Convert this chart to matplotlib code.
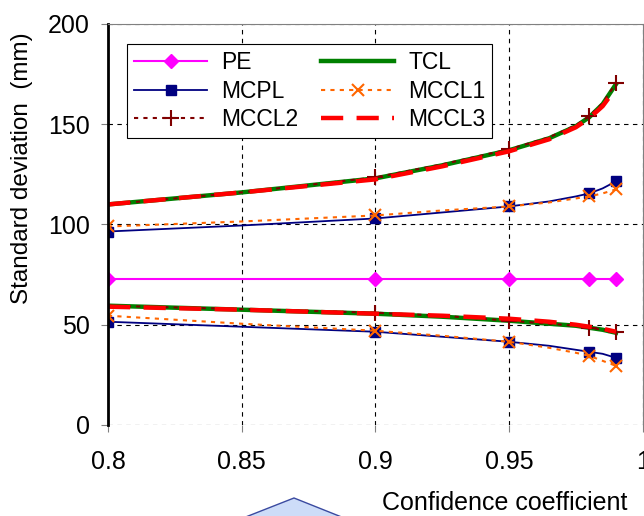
import matplotlib.pyplot as plt
from matplotlib.patches import Polygon

plt.rcParams['font.family'] = ['Liberation Sans', 'DejaVu Sans']

# confidence coefficient
conf = [0.8, 0.85, 0.9, 0.925, 0.95, 0.965, 0.975, 0.98, 0.985, 0.99]
mark_idx = [0, 2, 4, 7, 9]

pe_x = [0.8, 0.9, 0.95, 0.98, 0.99]
pe = [73, 73, 73, 73, 73]

tcl_up = [110, 116, 123, 129.5, 137, 143, 149, 153.5, 160, 170]
tcl_lo = [59.5, 57.5, 55.5, 54, 52, 50.5, 49.5, 48.5, 47.5, 46]
mcpl_up = [96.5, 99.5, 103, 106, 109, 111.5, 114, 115.5, 118, 121.5]
mcpl_lo = [51.5, 49, 46.5, 44, 41.5, 39.5, 37.5, 36.5, 35.5, 33.5]
mccl1_up = [99, 101.5, 104.5, 107, 109, 111, 113, 114, 115.5, 117.5]
mccl1_lo = [54.5, 50.5, 47, 44.5, 41.5, 38.5, 36, 34.5, 32, 29.5]
mccl2_up = [110, 116, 123.5, 130, 137.5, 143.5, 149.5, 154, 160.5, 170.5]
mccl2_lo = [59.5, 57.8, 56, 54.5, 52, 50.5, 49.5, 48.5, 47.5, 46.5]
mccl3_up = [110, 116, 122.5, 129, 136.5, 142.5, 148.5, 153, 159, 168]
mccl3_lo = [59, 57.5, 55.5, 54.5, 53, 51.5, 50, 49, 48, 46.5]

fig = plt.figure(figsize=(6.44, 5.16), dpi=100)
ax = fig.add_axes([0.1677, 0.1764, 0.8303, 0.7771])

ax.plot(pe_x, pe, color='#ff00ff', lw=1.5, marker='D', ms=7, label='PE')

def band(up, lo, label, **kw):
    ax.plot(conf, up, label=label, **kw)
    ax.plot(conf, lo, **kw)

band(tcl_up, tcl_lo, 'TCL', color='#008000', lw=3.2)
band(mcpl_up, mcpl_lo, 'MCPL', color='#000080', lw=1.3,
     marker='s', ms=7, markevery=mark_idx)
band(mccl1_up, mccl1_lo, 'MCCL1', color='#ff6600', lw=1.5, ls=(0, (2, 2.5)),
     marker='x', ms=9, mew=1.5, markevery=mark_idx)
band(mccl2_up, mccl2_lo, 'MCCL2', color='#800000', lw=1.5, ls=(0, (2, 2.5)),
     marker='+', ms=11, mew=1.5, markevery=mark_idx)
band(mccl3_up, mccl3_lo, 'MCCL3', color='#ff0000', lw=3.2, ls=(0, (5, 3)))

ax.set_xlim(0.8, 1.0)
ax.set_ylim(0, 200)
ax.set_xticks([0.8, 0.85, 0.9, 0.95, 1.0])
ax.set_xticklabels(['0.8', '0.85', '0.9', '0.95', '1'])
ax.set_yticks([0, 50, 100, 150, 200])
ax.tick_params(labelsize=18, length=5, color='#808080', pad=8)
ax.tick_params(axis='x', pad=13)
ax.grid(True, color='black', ls=(0, (4, 4)), lw=0.8)

ax.spines['left'].set_linewidth(2)
ax.spines['top'].set_color('#808080')
ax.spines['right'].set_color('#808080')
ax.spines['bottom'].set_visible(False)

# legend order: PE, TCL / MCPL, MCCL1 / MCCL2, MCCL3
h, l = ax.get_legend_handles_labels()
order = [0, 2, 4, 1, 3, 5]
leg = ax.legend([h[i] for i in order], [l[i] for i in order], ncol=2,
                loc='upper left', bbox_to_anchor=(0.0355, 0.95), borderaxespad=0,
                fontsize=16.5, handlelength=3.2, columnspacing=1.0,
                labelspacing=0.25, handletextpad=0.6, fancybox=False,
                edgecolor='black', framealpha=1, borderpad=0.3)
leg.get_frame().set_linewidth(0.8)

fig.text(0.034, 0.674, 'Standard deviation  (mm)', rotation=90,
         ha='center', va='center', fontsize=17.5)
fig.text(0.783, 0.025, 'Confidence coefficient', ha='center', va='center',
         fontsize=18)

tri = Polygon([(0.365, -0.01), (0.4565, 0.0349), (0.5466, -0.01)],
              closed=True, transform=fig.transFigure, facecolor='#cddcf8',
              edgecolor='#3a4aa0', lw=1)
fig.patches.append(tri)

fig.savefig('out.png', dpi=100)
